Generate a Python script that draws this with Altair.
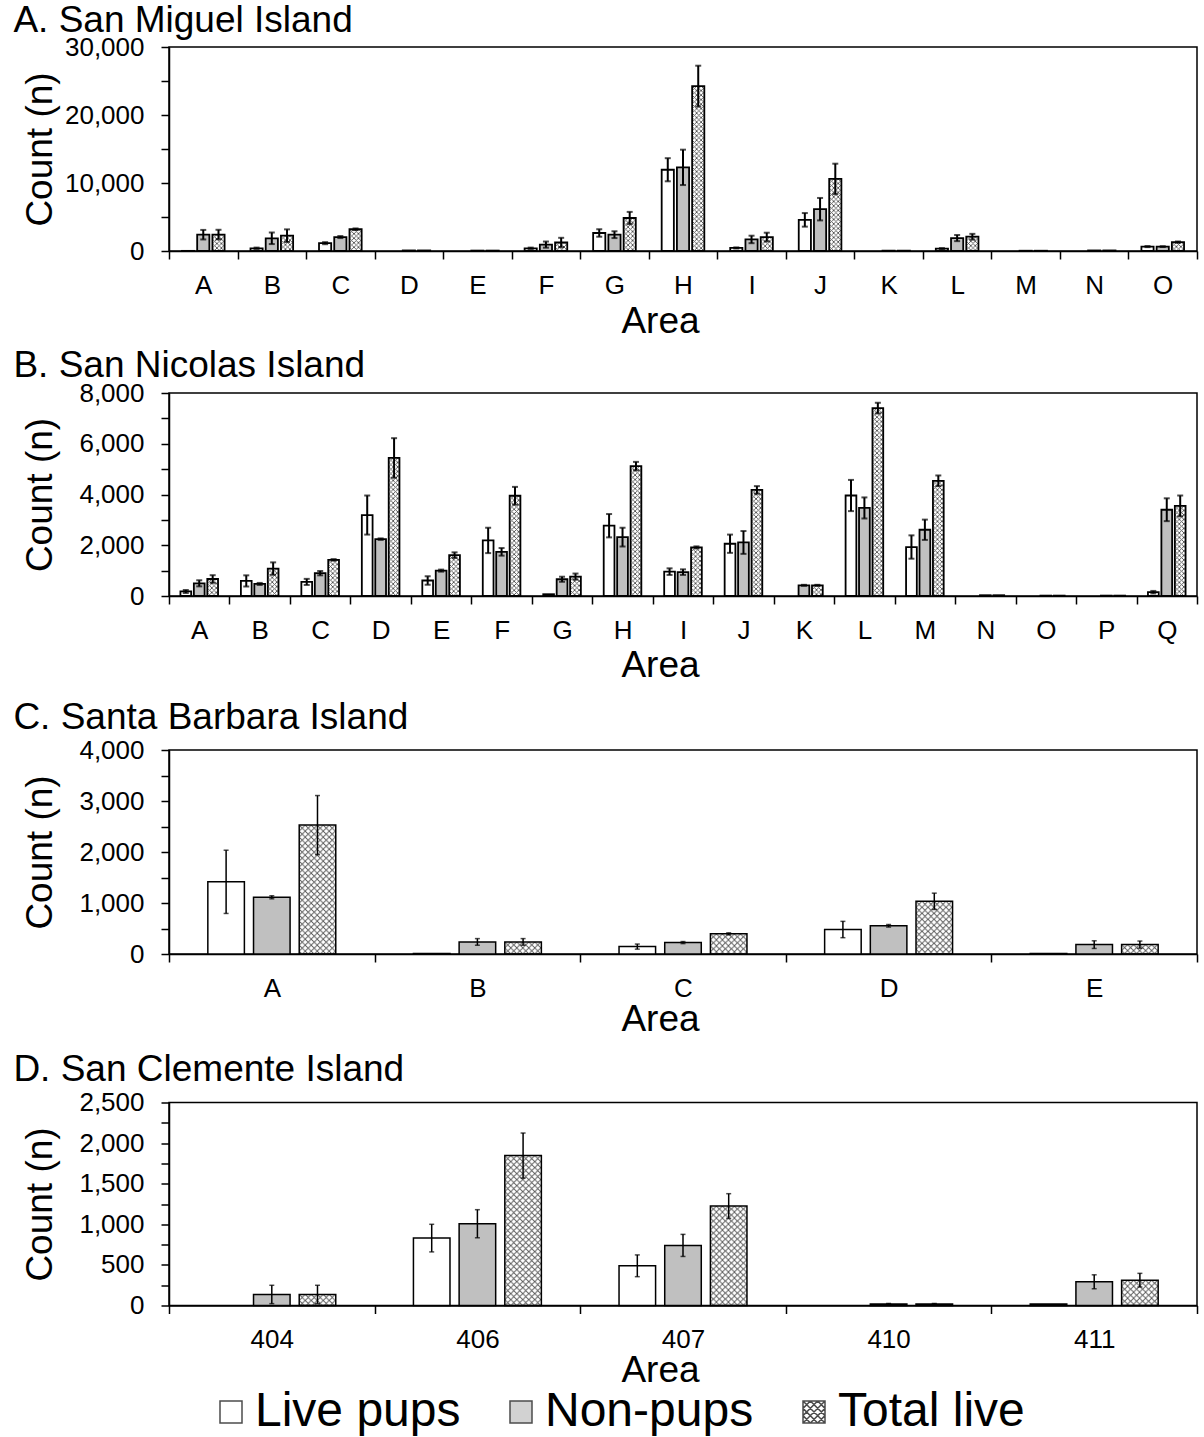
import urllib.parse
import altair as alt
import pandas as pd

FONT = "Liberation Sans"
SERIES = ["Live pups", "Non-pups", "Total live"]
FILLS = ["white", "#c0c0c0", "transparent"]

# ---------------- A. San Miguel Island ----------------
a_areas = list("ABCDEFGHIJKLMNO")
a_live = [20, 400, 1150, 0, 0, 400, 2650, 11950, 450, 4580, 0, 350, 0, 0, 650]
a_non = [2400, 1870, 2050, 80, 60, 940, 2400, 12300, 1700, 6150, 50, 1900, 40, 80, 650]
a_total = [2420, 2250, 3200, 80, 60, 1250, 4850, 24250, 2050, 10600, 50, 2100, 40, 80, 1300]
a_live_err = [0, 100, 150, 0, 0, 100, 550, 1700, 80, 1000, 0, 80, 0, 0, 80]
a_non_err = [700, 850, 150, 0, 0, 450, 500, 2600, 550, 1650, 0, 450, 0, 0, 60]
a_total_err = [700, 930, 120, 0, 0, 690, 900, 3000, 640, 2240, 0, 420, 0, 0, 100]

# ---------------- B. San Nicolas Island ----------------
b_areas = list("ABCDEFGHIJKLMNOPQ")
b_live = [180, 594, 555, 3190, 610, 2190, 70, 2770, 960, 2060, 0, 3960, 1930, 0, 0, 0, 150]
b_non = [500, 475, 900, 2240, 1000, 1740, 660, 2320, 940, 2110, 420, 3470, 2610, 30, 15, 15, 3400]
b_total = [670, 1080, 1425, 5440, 1610, 3950, 765, 5120, 1915, 4180, 420, 7405, 4540, 30, 15, 15, 3550]
b_live_err = [60, 220, 120, 770, 165, 500, 0, 460, 130, 360, 0, 615, 460, 0, 0, 0, 50]
b_non_err = [120, 40, 85, 30, 40, 150, 100, 370, 110, 450, 20, 415, 400, 0, 0, 0, 450]
b_total_err = [150, 245, 30, 780, 110, 350, 120, 165, 40, 150, 20, 210, 210, 0, 0, 0, 410]

# ---------------- C. Santa Barbara Island ----------------
c_areas = ["A", "B", "C", "D", "E"]
c_live = [1415, 10, 145, 480, 10]
c_non = [1112, 237, 224, 553, 184]
c_total = [2527, 237, 395, 1033, 184]
c_live_err = [620, 0, 50, 160, 0]
c_non_err = [30, 65, 20, 25, 75]
c_total_err = [580, 65, 20, 160, 70]

# ---------------- D. San Clemente Island ----------------
d_areas = ["404", "406", "407", "410", "411"]
d_live = [0, 830, 489, 0, 20]
d_non = [136, 1007, 740, 20, 292]
d_total = [136, 1846, 1225, 20, 312]
d_live_err = [0, 170, 134, 0, 0]
d_non_err = [113, 173, 136, 5, 86]
d_total_err = [113, 278, 152, 5, 84]


def make_df(areas, vals, errs):
    rows = []
    for s, v_list, e_list in zip(SERIES, vals, errs):
        for a, v, e in zip(areas, v_list, e_list):
            rows.append(dict(area=a, series=s, value=v, err=e, lo=v - e, hi=v + e, zero=0))
    return pd.DataFrame(rows)


def hatch_uri(cell, color="#555555", width=0.9):
    svg = (
        "<svg xmlns='http://www.w3.org/2000/svg' width='100%' height='100%'>"
        f"<defs><pattern id='h' width='{cell}' height='{cell}' patternUnits='userSpaceOnUse'>"
        f"<path d='M0,0L{cell},{cell}M{cell},0L0,{cell}' stroke='{color}' stroke-width='{width}' fill='none'/>"
        "</pattern></defs><rect width='100%' height='100%' fill='url(#h)'/></svg>"
    )
    return "data:image/svg+xml;charset=utf-8," + urllib.parse.quote(svg)


def hatch_path(step=2 / 3):
    parts = ["M-1,-1H1V1H-1Z"]
    c = -2 + step
    while c < 2 - 1e-9:
        x0, x1 = max(-1, -1 + c), min(1, 1 + c)
        parts.append(f"M{x0:.2f},{x0 - c:.2f}L{x1:.2f},{x1 - c:.2f}")
        x0, x1 = max(-1, c - 1), min(1, c + 1)
        parts.append(f"M{x0:.2f},{c - x0:.2f}L{x1:.2f},{c - x1:.2f}")
        c += step
    return "".join(parts)


legend = alt.Legend(
    title=None,
    orient="none",
    legendX=38,
    legendY=1341,
    direction="horizontal",
    symbolType="square",
    symbolSize=484,
    symbolStrokeColor="black",
    symbolStrokeWidth=1.5,
    labelFontSize=48,
    labelFont=FONT,
    labelColor="black",
    labelOffset=0,
    labelLimit=600,
    columnPadding=36,
    padding=0,
)

fill_enc = alt.Fill(
    "series:N",
    sort=SERIES,
    scale=alt.Scale(domain=SERIES, range=FILLS),
    legend=legend,
)
shape_enc = alt.Shape(
    "series:N",
    sort=SERIES,
    scale=alt.Scale(domain=SERIES, range=["square", "square", hatch_path()]),
    legend=legend,
)

PLOT_W = 1028


def panel(title, areas, df, ymax, tick_step, label_step, height,
          cell, bar_w, err_w, cap, title_offset, x_title_pad):
    x = alt.X(
        "area:N",
        sort=areas,
        scale=alt.Scale(domain=areas, paddingInner=0, paddingOuter=0),
        axis=alt.Axis(title="Area", labelAngle=0, tickBand="extent", labelPadding=13,
                      titlePadding=x_title_pad, titleX=491),
    )
    xo = alt.XOffset(
        "series:N",
        sort=SERIES,
        scale=alt.Scale(domain=SERIES, paddingInner=0.2, paddingOuter=0.85),
    )
    yscale = alt.Scale(domain=[0, ymax], nice=False, zero=True)
    yaxis = alt.Axis(
        title="Count (n)",
        values=list(range(0, ymax + 1, tick_step)),
        labelExpr=f"datum.value % {label_step} === 0 ? format(datum.value, ',') : ''",
        labelPadding=17,
        titlePadding=9.6,
        minExtent=100,
        maxExtent=100,
        labelOverlap=False,
    )
    base = alt.Chart(df)
    img = (
        base.mark_image(aspect=False)
        .encode(
            x=x,
            xOffset=xo,
            y=alt.Y("value:Q", scale=yscale, axis=yaxis),
            y2=alt.Y2("zero"),
            url=alt.value(hatch_uri(cell)),
        )
        .transform_filter("datum.series === 'Total live' && datum.value > 0")
    )
    bars = (
        base.mark_bar(stroke="black", strokeWidth=bar_w)
        .encode(x=x, xOffset=xo, y=alt.Y("value:Q", scale=yscale, axis=yaxis), fill=fill_enc)
        .transform_filter("datum.value > 0")
    )
    keys = (
        base.mark_point(filled=True, size=0, stroke="black", strokeWidth=1.5)
        .encode(x=x, xOffset=xo, y=alt.Y("value:Q", scale=yscale, axis=yaxis), fill=fill_enc, shape=shape_enc)
    )
    rule = (
        base.mark_rule(color="black", strokeWidth=err_w)
        .encode(x=x, xOffset=xo, y=alt.Y("lo:Q", scale=yscale, axis=yaxis), y2=alt.Y2("hi"))
        .transform_filter("datum.err > 0")
    )
    cap_lo = (
        base.mark_tick(color="black", thickness=err_w, size=cap, orient="horizontal")
        .encode(x=x, xOffset=xo, y=alt.Y("lo:Q", scale=yscale, axis=yaxis))
        .transform_filter("datum.err > 0")
    )
    cap_hi = (
        base.mark_tick(color="black", thickness=err_w, size=cap, orient="horizontal")
        .encode(x=x, xOffset=xo, y=alt.Y("hi:Q", scale=yscale, axis=yaxis))
        .transform_filter("datum.err > 0")
    )
    return alt.layer(img, bars, keys, rule, cap_lo, cap_hi).properties(
        width=PLOT_W,
        height=height,
        title=alt.TitleParams(
            title,
            anchor="start",
            frame="bounds",
            fontSize=37,
            font=FONT,
            fontWeight="normal",
            color="black",
            offset=title_offset,
            dx=-8,
        ),
    )


def stack(*charts, spacing):
    return alt.vconcat(*charts, spacing=spacing).resolve_scale(
        x="independent", y="independent", xOffset="independent", fill="shared", shape="shared"
    )


pA = panel("A. San Miguel Island", a_areas,
           make_df(a_areas, [a_live, a_non, a_total], [a_live_err, a_non_err, a_total_err]),
           30000, 5000, 10000, 204, 4.5, 1.8, 2, 6, -6, 5.5)
pB = panel("B. San Nicolas Island", b_areas,
           make_df(b_areas, [b_live, b_non, b_total], [b_live_err, b_non_err, b_total_err]),
           8000, 1000, 2000, 203, 4.5, 1.8, 2, 6, -4.5, 4.5)
pC = panel("C. Santa Barbara Island", c_areas,
           make_df(c_areas, [c_live, c_non, c_total], [c_live_err, c_non_err, c_total_err]),
           4000, 500, 1000, 204, 6, 1.5, 1.5, 5, 0.5, 0)
pD = panel("D. San Clemente Island", d_areas,
           make_df(d_areas, [d_live, d_non, d_total], [d_live_err, d_non_err, d_total_err]),
           2500, 250, 500, 203, 6, 1.5, 1.5, 5, 0.5, 0)

chart = (
    stack(stack(pA, pB, spacing=4), stack(pC, pD, spacing=11.5), spacing=12)
    .properties(padding={"left": 12, "top": 1, "right": 0, "bottom": 0}, background="white")
    .configure_view(stroke="black", strokeWidth=1.5)
    .configure_axis(
        labelFont=FONT,
        titleFont=FONT,
        labelFontSize=26,
        titleFontSize=37,
        titleFontWeight="normal",
        labelColor="black",
        titleColor="black",
        domainColor="black",
        tickColor="black",
        domainWidth=1.5,
        tickWidth=1.5,
        tickSize=8,
        grid=False,
    )
)

chart.save("out.html", embed_options={"renderer": "svg", "actions": False})
